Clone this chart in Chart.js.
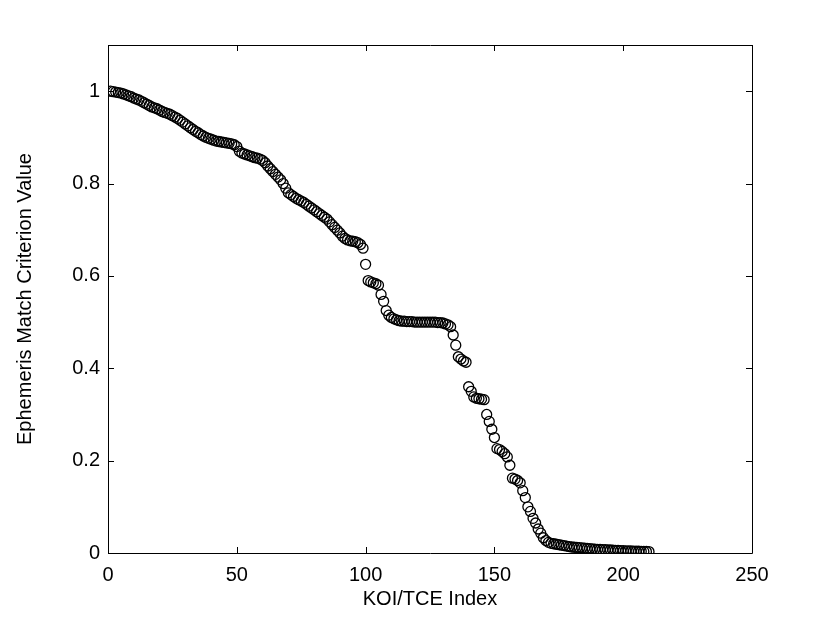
<!DOCTYPE html>
<html>
<head>
<meta charset="utf-8">
<script src="https://cdn.jsdelivr.net/npm/chart.js@4.4.1/dist/chart.umd.min.js"></script>
<style>
  html, body { margin: 0; padding: 0; background: #fff; }
  #wrap { width: 830px; height: 625px; }
</style>
</head>
<body>
<div id="wrap"><canvas id="chart"></canvas></div>
<script>
'use strict'

// ephemeris match value per KOI/TCE, sorted high to low (index 1..210)
let matchValues = [
    1.000, 0.999, 0.998, 0.997, 0.996, 0.994, 0.992, 0.990, 0.988, 0.985,
    0.983, 0.981, 0.978, 0.975, 0.972, 0.969, 0.966, 0.964, 0.962, 0.959,
    0.956, 0.954, 0.952, 0.950, 0.947, 0.944, 0.941, 0.937, 0.933, 0.929,
    0.925, 0.921, 0.917, 0.913, 0.910, 0.906, 0.903, 0.900, 0.898, 0.896,
    0.894, 0.892, 0.891, 0.890, 0.889, 0.888, 0.887, 0.886, 0.884, 0.880,
    0.870, 0.866, 0.864, 0.862, 0.860, 0.858, 0.856, 0.855, 0.853, 0.850,
    0.845, 0.838, 0.832, 0.826, 0.820, 0.814, 0.808, 0.800, 0.790, 0.780,
    0.776, 0.772, 0.768, 0.765, 0.762, 0.759, 0.755, 0.751, 0.747, 0.743,
    0.739, 0.735, 0.731, 0.727, 0.723, 0.717, 0.711, 0.705, 0.699, 0.693,
    0.686, 0.681, 0.678, 0.676, 0.675, 0.674, 0.672, 0.668, 0.660, 0.625,
    0.590, 0.587, 0.585, 0.583, 0.580, 0.560, 0.545, 0.525, 0.515, 0.510,
    0.507, 0.505, 0.503, 0.502, 0.502, 0.501, 0.501, 0.501, 0.500, 0.500,
    0.500, 0.500, 0.500, 0.500, 0.500, 0.500, 0.500, 0.499, 0.499, 0.498,
    0.496, 0.494, 0.490, 0.472, 0.450, 0.425, 0.420, 0.416, 0.413, 0.360,
    0.350, 0.338, 0.335, 0.334, 0.333, 0.332, 0.300, 0.285, 0.268, 0.250,
    0.226, 0.224, 0.220, 0.215, 0.208, 0.190, 0.162, 0.160, 0.157, 0.152,
    0.135, 0.120, 0.100, 0.090, 0.075, 0.065, 0.052, 0.043, 0.033, 0.027,
    0.023, 0.021, 0.020, 0.019, 0.018, 0.017, 0.016, 0.015, 0.014, 0.013,
    0.0125, 0.012, 0.0115, 0.011, 0.0105, 0.010, 0.0095, 0.009, 0.0085, 0.008,
    0.0077, 0.0074, 0.0071, 0.0068, 0.0065, 0.0062, 0.0059, 0.0056, 0.0053, 0.005,
    0.0048, 0.0046, 0.0044, 0.0042, 0.0040, 0.0038, 0.0036, 0.0034, 0.0032, 0.0030
];

let xTicks = [0, 50, 100, 150, 200, 250];
let yTicks = [0, 0.2, 0.4, 0.6, 0.8, 1];
let yTickLabels = ['0', '0.2', '0.4', '0.6', '0.8', '1'];

let points = [];
for (let i = 0; i < matchValues.length; i++) {
    points.push({ x: i + 1, y: matchValues[i] });
}

let FONT = '"Liberation Sans", Arial, Helvetica, sans-serif';

// matlab-ish box with inward tick marks on all four sides
let boxPlugin = {
    id: 'boxTicks',
    afterDraw(chart) {
        let ctx = chart.ctx;
        let a = chart.chartArea;
        let xs = chart.scales.x;
        let ys = chart.scales.y;
        let len = 6;
        ctx.save();
        ctx.strokeStyle = '#000';
        ctx.lineWidth = 1;
        ctx.beginPath();
        ctx.rect(Math.round(a.left) + 0.5, Math.round(a.top) + 0.5,
            Math.round(a.right - a.left), Math.round(a.bottom - a.top));
        xTicks.forEach(function (t) {
            let px = Math.round(xs.getPixelForValue(t)) + 0.5;
            ctx.moveTo(px, a.bottom);
            ctx.lineTo(px, a.bottom - len);
            ctx.moveTo(px, a.top);
            ctx.lineTo(px, a.top + len);
        });
        yTicks.forEach(function (t) {
            let py = Math.round(ys.getPixelForValue(t)) + 0.5;
            ctx.moveTo(a.left, py);
            ctx.lineTo(a.left + len, py);
            ctx.moveTo(a.right, py);
            ctx.lineTo(a.right - len, py);
        });
        ctx.stroke();
        ctx.restore();
    }
};

let canvasElem = document.getElementById('chart');

new Chart(canvasElem, {
    type: 'scatter',
    data: {
        datasets: [{
            data: points,
            pointStyle: 'circle',
            pointRadius: 5,
            pointBorderWidth: 1.3,
            pointBorderColor: '#000',
            pointBackgroundColor: 'rgba(0,0,0,0)'
        }]
    },
    options: {
        responsive: true,
        maintainAspectRatio: false,
        animation: false,
        layout: { padding: { left: 0, right: 78, top: 45, bottom: 0 } },
        plugins: {
            legend: { display: false },
            tooltip: { enabled: false }
        },
        scales: {
            x: {
                type: 'linear',
                min: 0,
                max: 250,
                afterBuildTicks: function (scale) {
                    scale.ticks = xTicks.map(function (v) { return { value: v }; });
                },
                afterFit: function (scale) { scale.height = 72; },
                grid: { display: false, drawTicks: false },
                border: { display: false },
                ticks: {
                    color: '#000',
                    padding: 10,
                    maxRotation: 0,
                    font: { family: FONT, size: 20 }
                },
                title: {
                    display: true,
                    text: 'KOI/TCE Index',
                    color: '#000',
                    padding: { top: 0, bottom: 14 },
                    font: { family: FONT, size: 20 }
                }
            },
            y: {
                type: 'linear',
                min: 0,
                max: 1.1,
                afterBuildTicks: function (scale) {
                    scale.ticks = yTicks.map(function (v) { return { value: v }; });
                },
                afterFit: function (scale) { scale.width = 108; },
                grid: { display: false, drawTicks: false },
                border: { display: false },
                ticks: {
                    color: '#000',
                    padding: 8,
                    font: { family: FONT, size: 20 },
                    callback: function (v) {
                        let k = yTicks.indexOf(v);
                        return k >= 0 ? yTickLabels[k] : '';
                    }
                },
                title: {
                    display: true,
                    text: 'Ephemeris Match Criterion Value',
                    color: '#000',
                    padding: { top: 13, bottom: 0 },
                    font: { family: FONT, size: 20 }
                }
            }
        }
    },
    plugins: [boxPlugin]
});
</script>
</body>
</html>
